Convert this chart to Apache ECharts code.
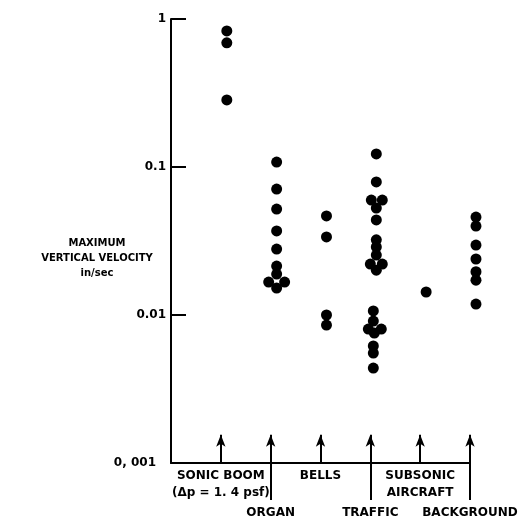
<!DOCTYPE html>
<html>
<head>
<meta charset="utf-8">
<script src="https://cdn.jsdelivr.net/npm/echarts@6.0.0/dist/echarts.min.js"></script>
<style>
  html, body { margin: 0; padding: 0; background: #fff; }
  #chart { width: 526px; height: 526px; }
</style>
</head>
<body>
<div id="chart"></div>
<script>
// source categories, in axis order
const categories = ['SONIC BOOM\n(Δp = 1. 4 psf)', 'ORGAN', 'BELLS', 'TRAFFIC', 'SUBSONIC\nAIRCRAFT', 'BACKGROUND']
const yTickLabels = ['0, 001', '0.01', '0.1', '1']

// maximum vertical velocity, in/sec
const sonicBoom = [0.83, 0.69, 0.284]
const organ = [0.108, 0.0709, 0.052, 0.037, 0.0279, 0.0214, 0.0189, 0.0167, 0.0167, 0.0152]
const bells = [0.0467, 0.0337, 0.0100, 0.00855]
const traffic = [0.1225, 0.0793, 0.0598, 0.0598, 0.0528, 0.0439, 0.0322, 0.0288, 0.0254, 0.0221, 0.0221, 0.0201,
  0.01065, 0.0091, 0.00803, 0.00803, 0.00755, 0.00618, 0.00553, 0.00438]
const subsonic = [0.0143]
const background = [0.0459, 0.0399, 0.0297, 0.0239, 0.0196, 0.0172, 0.01186]

// overlapping dots are nudged sideways in the original
const organSpread = [0, 0, 0, 0, 0, 0, 0, -0.16, 0.16, 0]
const trafficSpread = [0, 0, -0.1, 0.12, 0, 0, 0, 0, 0, -0.12, 0.12, 0,
  -0.06, -0.06, -0.16, 0.1, -0.04, -0.06, -0.06, -0.06]

const groups = [sonicBoom, organ, bells, traffic, subsonic, background]
const spreads = [null, organSpread, null, trafficSpread, null, null]
const dotShift = 0.12
const arrowTip = 0.00155

const points = []
groups.forEach((vals, i) => {
  vals.forEach((v, j) => {
    const s = spreads[i] ? spreads[i][j] : 0
    points.push([i + dotShift + s, v])
  })
})

const font = 'DejaVu Sans'
const black = '#000'
const labelText = { fontFamily: font, fontWeight: 'bold', fontSize: 12, lineHeight: 17, color: black }

function catLabel(v) {
  return categories[Math.round(v)]
}

const chart = echarts.init(document.getElementById('chart'))
chart.setOption({
  animation: false,
  backgroundColor: '#fff',
  title: {
    text: 'MAXIMUM\nVERTICAL VELOCITY\nin/sec',
    left: 92,
    top: 231,
    textAlign: 'center',
    textStyle: { fontFamily: font, fontWeight: 'bold', fontSize: 10, lineHeight: 15, color: black }
  },
  grid: { left: 171, right: 56, top: 19, bottom: 63 },
  xAxis: [{
    // upper row of labels + the axis line
    type: 'value',
    min: -1,
    max: 5,
    splitLine: { show: false },
    axisLine: { onZero: false, lineStyle: { color: black, width: 2 } },
    axisTick: { show: false },
    axisLabel: Object.assign({
      customValues: [0, 2, 4],
      hideOverlap: false,
      showMinLabel: true,
      showMaxLabel: true,
      margin: 4,
      formatter: catLabel
    }, labelText)
  }, {
    // lower row of labels + the separators below the axis
    type: 'value',
    position: 'bottom',
    min: -1,
    max: 5,
    splitLine: { show: false },
    axisLine: { show: false, onZero: false },
    axisTick: { show: true, customValues: [1, 3, 5], length: 37, lineStyle: { color: black, width: 2 } },
    axisLabel: Object.assign({
      customValues: [1, 3, 5],
      hideOverlap: false,
      showMinLabel: true,
      showMaxLabel: true,
      margin: 41,
      formatter: catLabel
    }, labelText)
  }],
  yAxis: {
    type: 'log',
    logBase: 10,
    min: 0.001,
    max: 1,
    splitLine: { show: false },
    axisLine: { onZero: false, lineStyle: { color: black, width: 2 } },
    axisTick: { inside: true, length: 15, lineStyle: { color: black, width: 2 } },
    axisLabel: {
      margin: 5,
      formatter: function (v) {
        const i = Math.round(Math.log10(v)) + 3
        return i === 0 ? '{p|' + yTickLabels[i] + '}' : yTickLabels[i]
      },
      fontFamily: font,
      fontWeight: 'bold',
      fontSize: 12,
      color: black,
      rich: {
        p: { fontFamily: font, fontWeight: 'bold', fontSize: 12, color: black, padding: [0, 10, 0, 0] }
      }
    }
  },
  series: [{
    type: 'scatter',
    clip: false,
    symbolSize: 11,
    itemStyle: { color: black, opacity: 1 },
    data: points,
    markLine: {
      silent: true,
      symbol: ['none', 'arrow'],
      symbolSize: [7, 12],
      label: { show: false },
      lineStyle: { color: black, width: 2, type: 'solid', opacity: 1 },
      data: categories.map((c, i) => [{ coord: [i, 0.001] }, { coord: [i, arrowTip] }])
    }
  }]
})
</script>
</body>
</html>
